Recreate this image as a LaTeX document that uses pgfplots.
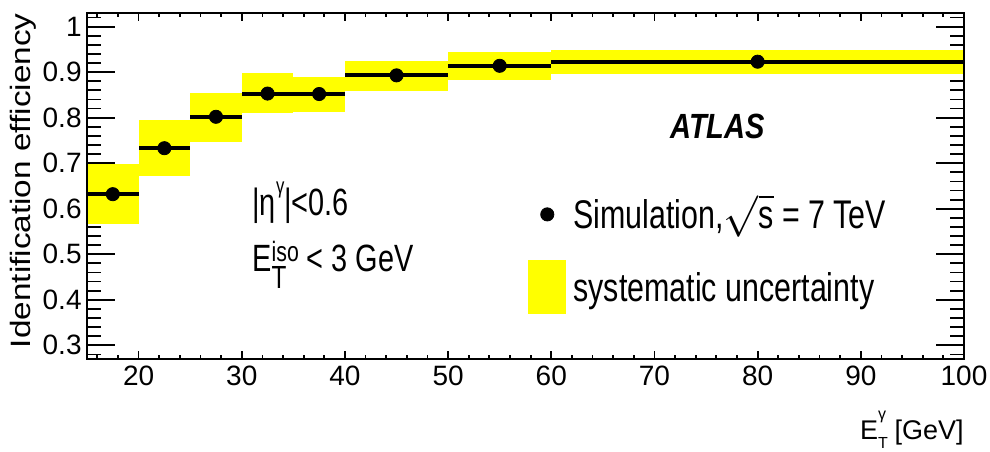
\documentclass[border=0pt]{standalone}
\usepackage{pgfplots}
\pgfplotsset{compat=1.18}
\usepackage{fontspec}
\setmainfont{Liberation Sans}
\newfontfamily\narrowfont[FakeStretch=0.76]{Liberation Sans}
\newfontfamily\atlasfont[FakeStretch=0.83]{Liberation Sans}
\newfontfamily\widefont[FakeStretch=1.19]{Liberation Sans}
\definecolor{sysyellow}{rgb}{1,1,0}

\pgfplotstableread{
x    ex   y
17.5 2.5  0.632
22.5 2.5  0.733
27.5 2.5  0.802
32.5 2.5  0.853
37.5 2.5  0.852
45   5    0.893
55   5    0.914
80   20   0.923
}\effdata

\begin{document}
\begin{tikzpicture}
\pgfplotsset{
  common/.style={
    scale only axis, width=438.5pt, height=173pt,
    xmin=15, xmax=100, ymin=0.27, ymax=1.03,
    axis line style={line width=1pt},
    tick align=inside,
    every tick/.style={line width=0.9pt, black},
    /pgf/number format/assume math mode=true,
    ticklabel style={font=\fontsize{14}{16}\selectfont},
  }
}
\begin{axis}[common,
  xtick=\empty,
  ytick={0.3,0.4,0.5,0.6,0.7,0.8,0.9,1.0},
  minor ytick={0.28,0.30,...,1.02},
  major tick length=14pt, minor tick length=7pt,
  yticklabel style={inner xsep=2.5pt},
  ylabel={\widefont\fontsize{14}{16}\selectfont Identification efficiency},
  ylabel style={at={(axis description cs:-0.073,1)}, anchor=east, inner sep=0pt},
  legend style={at={(axis cs:57.74,0.6467)}, anchor=north west, draw=none, fill=none,
    inner sep=0pt, row sep=9.5pt, column sep=3.7pt,
    font=\narrowfont\fontsize{20}{24}\selectfont,
    nodes={inner sep=0pt, anchor=base west}},
  legend cell align=left,
]
% systematic uncertainty bands
\addplot[fill=sysyellow, draw=none, forget plot] coordinates {(15,0.566) (20,0.566) (20,0.699) (15,0.699)} -- cycle;
\addplot[fill=sysyellow, draw=none, forget plot] coordinates {(20,0.673) (25,0.673) (25,0.796) (20,0.796)} -- cycle;
\addplot[fill=sysyellow, draw=none, forget plot] coordinates {(25,0.747) (30,0.747) (30,0.855) (25,0.855)} -- cycle;
\addplot[fill=sysyellow, draw=none, forget plot] coordinates {(30,0.810) (35,0.810) (35,0.899) (30,0.899)} -- cycle;
\addplot[fill=sysyellow, draw=none, forget plot] coordinates {(35,0.813) (40,0.813) (40,0.890) (35,0.890)} -- cycle;
\addplot[fill=sysyellow, draw=none, forget plot] coordinates {(40,0.858) (50,0.858) (50,0.924) (40,0.924)} -- cycle;
\addplot[fill=sysyellow, draw=none, forget plot] coordinates {(50,0.882) (60,0.882) (60,0.945) (50,0.945)} -- cycle;
\addplot[fill=sysyellow, draw=none, forget plot] coordinates {(60,0.896) (100,0.896) (100,0.948) (60,0.948)} -- cycle;
% efficiency points
\addplot[black, only marks, mark=*, mark size=3.3pt, forget plot,
  error bars/.cd, x dir=both, x explicit, error mark=none,
  error bar style={line width=2pt, black}]
  table[x=x, y=y, x error=ex] {\effdata};

\addlegendimage{legend image code/.code={
  \path[draw=none, fill=none] (0pt,-6.05pt) rectangle (18.5pt,20.45pt);
  \fill[black] (9.25pt,7.2pt) circle[radius=3.3pt];}}
\addlegendentry{Simulation,$\sqrt{\mbox{s}}$ = 7 TeV}
\addlegendimage{legend image code/.code={
  \fill[sysyellow] (0pt,-6.05pt) rectangle (18.5pt,20.45pt);}}
\addlegendentry{systematic uncertainty}

\node[anchor=base west, inner sep=0pt, font=\narrowfont\fontsize{19}{22}\selectfont]
  at (axis cs:31.0,0.585) {|η\raisebox{11pt}{\fontsize{11}{11}\selectfont γ}|<0.6};
\node[anchor=base west, inner sep=0pt, font=\narrowfont\fontsize{19}{22}\selectfont]
  at (axis cs:31.0,0.462) {E\makebox[0pt][l]{\raisebox{-8.5pt}{\fontsize{16}{16}\selectfont T}}\raisebox{5pt}{\fontsize{14}{14}\selectfont iso} < 3 GeV};
\node[anchor=base west, inner sep=0pt, font=\atlasfont\bfseries\itshape\fontsize{17.5}{20}\selectfont]
  at (axis cs:71.5,0.755) {ATLAS};
\end{axis}
\begin{axis}[common,
  ytick=\empty,
  xtick={20,30,40,50,60,70,80,90,100},
  minor xtick={16,18,...,98},
  major tick length=4pt, minor tick length=2pt,
  xlabel={\fontsize{13.5}{16}\selectfont E\makebox[0pt][l]{\raisebox{-4.5pt}{\fontsize{8}{8}\selectfont T}}\raisebox{10pt}{\fontsize{8}{8}\selectfont γ}\hspace{0.5pt} [GeV]},
  xlabel style={at={(axis description cs:1,0)}, anchor=base east, yshift=-40.5pt, inner sep=0pt},
]
\end{axis}
\pgfresetboundingbox
\path[use as bounding box] ([shift={(-43.5pt,-46.5pt)}]current axis.south west) rectangle ([shift={(13pt,6.5pt)}]current axis.north east);
\end{tikzpicture}
\end{document}
